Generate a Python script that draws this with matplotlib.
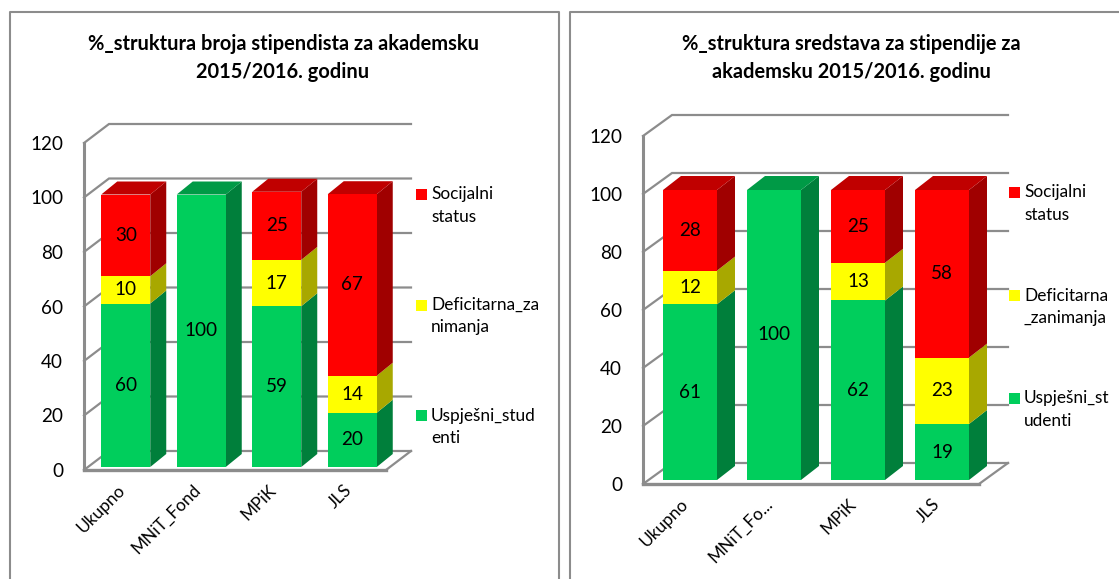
import matplotlib
matplotlib.use("Agg")
import matplotlib.pyplot as plt
from matplotlib.patches import Polygon, Rectangle
from matplotlib.transforms import ScaledTranslation

plt.rcParams['font.family'] = ['Lato', 'DejaVu Sans']

W, H = 1119, 579

# data
kategorije = ["Ukupno", "MNiT_Fond", "MPiK", "JLS"]
kategorije2 = ["Ukupno", "MNiT_Fo...", "MPiK", "JLS"]
uspjesni1 = [60, 100, 59, 19.9]
deficit1 = [10, 0, 17, 13.6]
socijalni1 = [30, 0, 25, 66.6]
uspjesni2 = [60.6, 100, 61.9, 19.3]
deficit2 = [11.6, 0, 13, 22.9]
socijalni2 = [27.8, 0, 25.1, 57.8]
y_ticks = [0, 20, 40, 60, 80, 100, 120]
naslov1 = "%_struktura broja stipendista za akademsku\n2015/2016. godinu"
naslov2 = "%_struktura sredstava za stipendije za\nakademsku 2015/2016. godinu"
legenda1 = ["Socijalni\nstatus", "Deficitarna_za\nnimanja", "Uspješni_stud\nenti"]
legenda2 = ["Socijalni\nstatus", "Deficitarna\n_zanimanja", "Uspješni_st\nudenti"]

# boje: front, side, top
ZELENA = ("#00CE5C", "#007F3B", "#009A46")
ZUTA = ("#FFFF00", "#A8A800", "#C0C000")
CRVENA = ("#FF0000", "#A00000", "#C00000")
SIVA = "#8C8C8C"
FS = 13.6


def crtaj(fig, box, wall, bar_off, bar_w, bar_depth, vals, cats, title, title_xy,
          leg, leg_x, leg_y, leg_step):
    x0, y0, x1, y1 = box  # pixels: left, bottom(floor), right, top(120)
    ax = fig.add_axes([x0 / W, 1 - y0 / H, (x1 - x0) / W, (y0 - y1) / H])
    ax.set_xlim(-0.5, 3.5)
    ax.set_ylim(0, 120)
    ax.patch.set_visible(False)
    ux = (x1 - x0) / 4.0
    uy = (y0 - y1) / 120.0
    wx, wy = wall[0] / ux, wall[1] / uy

    # zidovi i mreza
    for t in y_ticks:
        ax.plot([-0.5, -0.5 + wx, 3.5 + wx], [t, t + wy, t + wy], color=SIVA,
                lw=1.6, clip_on=False, zorder=1, solid_joinstyle='miter')
    ax.plot([3.5, 3.5 + wx], [0, wy], color=SIVA, lw=1.6, clip_on=False, zorder=1)
    ax.plot([-0.5, -0.5], [0, 120], color=SIVA, lw=2.2, clip_on=False, zorder=2)
    ax.plot([-0.5, 3.5], [0, 0], color=SIVA, lw=2.4, clip_on=False, zorder=2)

    # stupci
    ox, oy = bar_off[0] / ux, bar_off[1] / uy
    bw = bar_w / ux
    dx, dy = bar_depth[0] / ux, bar_depth[1] / uy
    for i in range(len(cats)):
        dno = oy
        vrh = None
        for serija, boje in zip(vals, (ZELENA, ZUTA, CRVENA)):
            v = serija[i]
            if v == 0:
                continue
            l = i + ox - bw / 2
            r = i + ox + bw / 2
            ax.add_patch(Rectangle((l, dno), bw, v, fc=boje[0], ec='none', zorder=5,
                                   clip_on=False))
            ax.add_patch(Polygon([(r, dno), (r + dx, dno + dy), (r + dx, dno + v + dy),
                                  (r, dno + v)], fc=boje[1], ec='none', zorder=4,
                                 clip_on=False))
            ax.text(i + ox, dno + v / 2, "%.0f" % v, ha='center', va='center',
                    fontsize=FS, color='black', zorder=6)
            dno += v
            vrh = boje
        ax.add_patch(Polygon([(l, dno), (l + dx, dno + dy), (r + dx, dno + dy), (r, dno)],
                             fc=vrh[2], ec='none', zorder=4, clip_on=False))

    ax.set_xticks(range(len(cats)))
    ax.set_xticklabels(cats, rotation=45, ha='right', rotation_mode='anchor', fontsize=12.4)
    ax.set_yticks(y_ticks)
    ax.tick_params(axis='y', length=0, labelsize=FS, colors='black', pad=15)
    ax.tick_params(axis='x', length=0, colors='black', pad=8.5)
    pomak = ScaledTranslation(-5 / 100, 0, fig.dpi_scale_trans)
    for lab in ax.get_xticklabels():
        lab.set_transform(lab.get_transform() + pomak)
    for s in ax.spines.values():
        s.set_visible(False)

    fig.text(title_xy[0] / W, 1 - title_xy[1] / H, title, ha='center', va='center',
             fontsize=14.4, fontweight='bold', linespacing=1.53)

    # legenda
    for k, (txt, boje) in enumerate(zip(leg, (CRVENA, ZUTA, ZELENA))):
        y = leg_y + k * leg_step
        fig.add_artist(Rectangle(((leg_x) / W, 1 - (y + 5.5) / H), 11 / W, 11 / H,
                                 fc=boje[0], ec='none', transform=fig.transFigure))
        fig.text((leg_x + 15) / W, 1 - (y - 8) / H, txt, ha='left', va='top',
                 fontsize=12.4, linespacing=1.47)


fig = plt.figure(figsize=(W / 100, H / 100), dpi=100, facecolor='white')

# okviri
for xs in ([9.5, 9.5, 558.5, 558.5], [569.5, 569.5, 1125, 1125]):
    fig.add_artist(plt.Line2D([x / W for x in xs], [1 - y / H for y in (585, 12, 12, 585)],
                              color=SIVA, lw=1.5, transform=fig.transFigure))

crtaj(fig, (84, 470, 386, 143), (25, 19), (4, 3), 49, (16, 13),
      (uspjesni1, deficit1, socijalni1), kategorije, naslov1, (283, 58),
      legenda1, 416, 194.5, 110.5)
crtaj(fig, (643, 484, 979, 136), (29, 21), (5, 4), 54, (18, 14),
      (uspjesni2, deficit2, socijalni2), kategorije2, naslov2, (851, 58),
      legenda2, 1009, 192.5, 103)

fig.savefig("out.png", dpi=100)
